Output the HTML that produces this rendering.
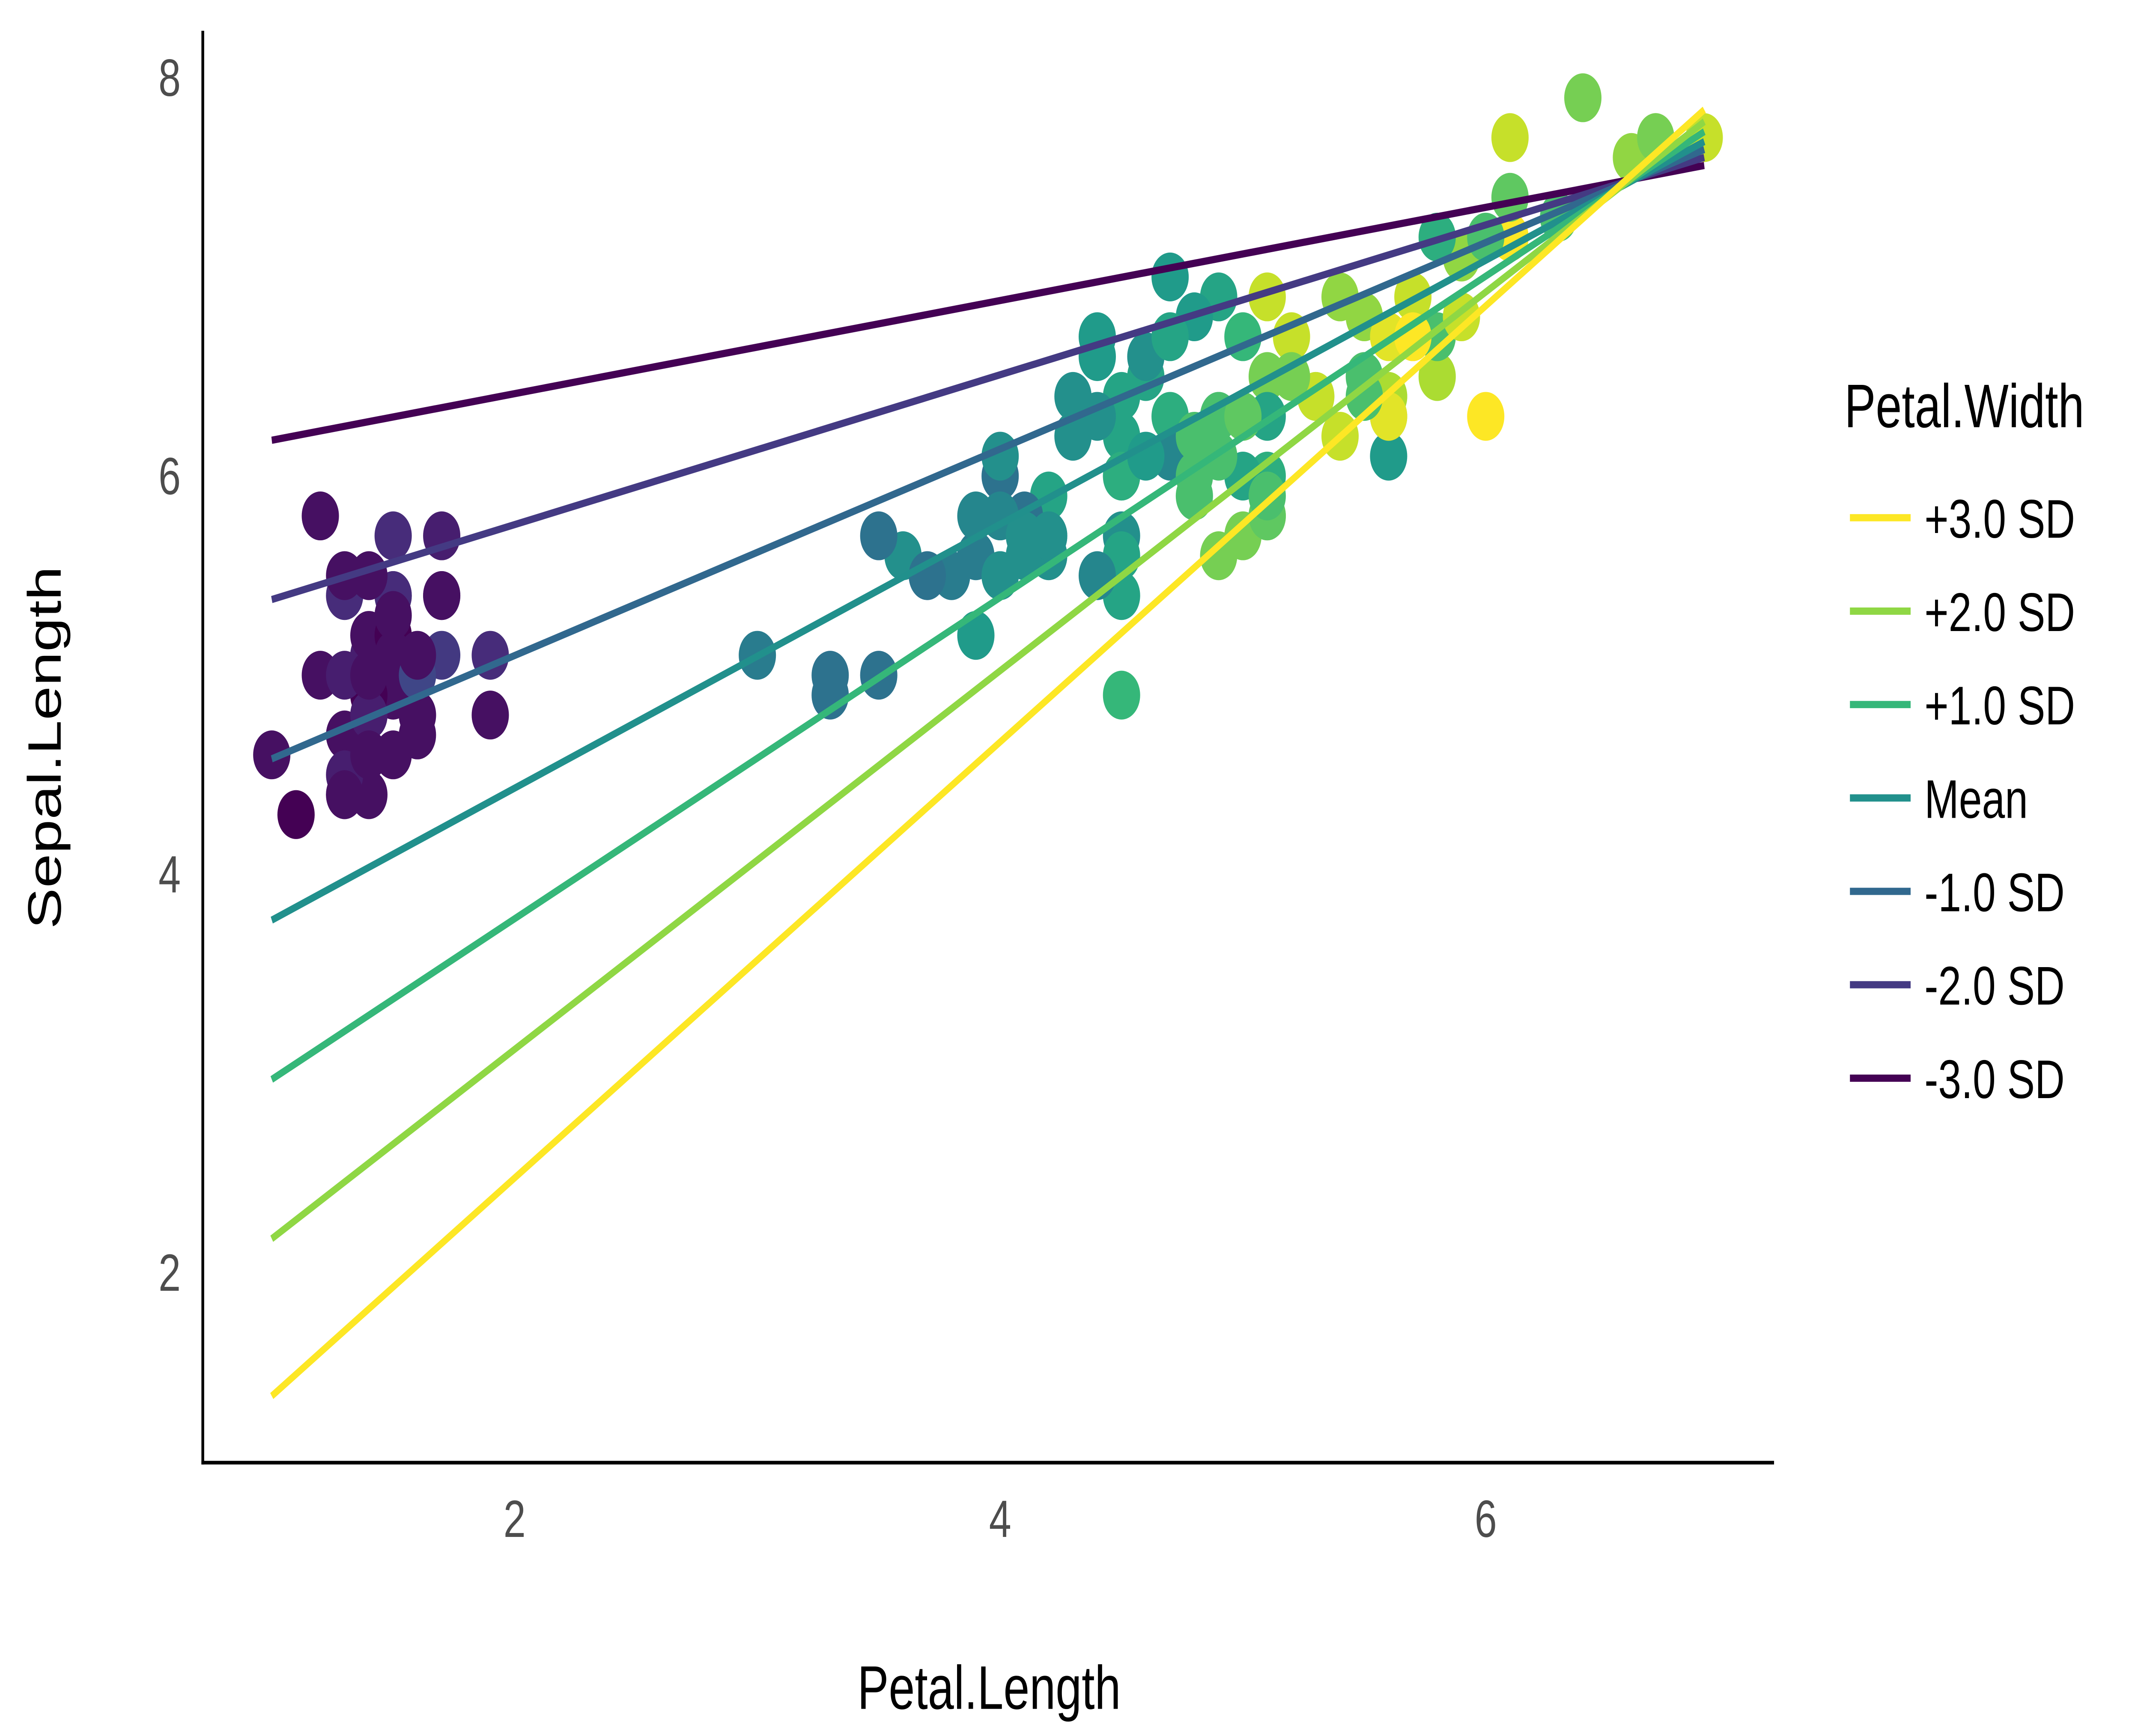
<!DOCTYPE html>
<html><head><meta charset="utf-8">
<style>
html,body{margin:0;padding:0;background:#fff;width:100%;height:100%;overflow:hidden;}
svg{display:block;position:fixed;left:0;top:0;width:100vw;height:100vh;font-family:"Liberation Sans",Arial,sans-serif;}
</style></head>
<body>
<svg id="chart" viewBox="0 0 1552 959" preserveAspectRatio="none" xmlns="http://www.w3.org/2000/svg">
<rect x="0" y="0" width="1552" height="959" fill="#fff"/>
<g id="points"></g>
<g id="lines"></g>
<line x1="147" y1="17" x2="147" y2="809" stroke="#000" stroke-width="2"/>
<line x1="146" y1="808" x2="1286" y2="808" stroke="#000" stroke-width="2"/>
<g id="xticks"></g>
<g id="yticks"></g>
<text x="717" y="944" font-size="34" text-anchor="middle" fill="#000">Petal.Length</text>
<text transform="translate(44,413) rotate(-90)" font-size="34" text-anchor="middle" fill="#000">Sepal.Length</text>
<text x="1337" y="236" font-size="34" fill="#000">Petal.Width</text>
<g id="legend"></g>
</svg>
<script>
const petalLength=[1.4,1.4,1.3,1.5,1.4,1.7,1.4,1.5,1.4,1.5,1.5,1.6,1.4,1.1,1.2,1.5,1.3,1.4,1.7,1.5,1.7,1.5,1.0,1.7,1.9,1.6,1.6,1.5,1.4,1.6,1.6,1.5,1.5,1.4,1.5,1.2,1.3,1.4,1.3,1.5,1.3,1.3,1.3,1.6,1.9,1.4,1.6,1.4,1.5,1.4,
4.7,4.5,4.9,4.0,4.6,4.5,4.7,3.3,4.6,3.9,3.5,4.2,4.0,4.7,3.6,4.4,4.5,4.1,4.5,3.9,4.8,4.0,4.9,4.7,4.3,4.4,4.8,5.0,4.5,3.5,3.8,3.7,3.9,5.1,4.5,4.5,4.7,4.4,4.1,4.0,4.4,4.6,4.0,3.3,4.2,4.2,4.2,4.3,3.0,4.1,
6.0,5.1,5.9,5.6,5.8,6.6,4.5,6.3,5.8,6.1,5.1,5.3,5.5,5.0,5.1,5.3,5.5,6.7,6.9,5.0,5.7,4.9,6.7,4.9,5.7,6.0,4.8,4.9,5.6,5.8,6.1,6.4,5.6,5.1,5.6,6.1,5.6,5.5,4.8,5.4,5.6,5.1,5.1,5.9,5.7,5.2,5.0,5.2,5.4,5.1];
const sepalLength=[5.1,4.9,4.7,4.6,5.0,5.4,4.6,5.0,4.4,4.9,5.4,4.8,4.8,4.3,5.8,5.7,5.4,5.1,5.7,5.1,5.4,5.1,4.6,5.1,4.8,5.0,5.0,5.2,5.2,4.7,4.8,5.4,5.2,5.5,4.9,5.0,5.5,4.9,4.4,5.1,5.0,4.5,4.4,5.0,5.1,4.8,5.1,4.6,5.3,5.0,
7.0,6.4,6.9,5.5,6.5,5.7,6.3,4.9,6.6,5.2,5.0,5.9,6.0,6.1,5.6,6.7,5.6,5.8,6.2,5.6,5.9,6.1,6.3,6.1,6.4,6.6,6.8,6.7,6.0,5.7,5.5,5.5,5.8,6.0,5.4,6.0,6.7,6.3,5.6,5.5,5.5,6.1,5.8,5.0,5.6,5.7,5.7,6.2,5.1,5.7,
6.3,5.8,7.1,6.3,6.5,7.6,4.9,7.3,6.7,7.2,6.5,6.4,6.8,5.7,5.8,6.4,6.5,7.7,7.7,6.0,6.9,5.6,7.7,6.3,6.7,7.2,6.2,6.1,6.4,7.2,7.4,7.9,6.4,6.3,6.1,7.7,6.3,6.4,6.0,6.9,6.7,6.9,5.8,6.8,6.7,6.7,6.3,6.5,6.2,5.9];
const petalWidth=[0.2,0.2,0.2,0.2,0.2,0.4,0.3,0.2,0.2,0.1,0.2,0.2,0.1,0.1,0.2,0.4,0.4,0.3,0.3,0.3,0.2,0.4,0.2,0.5,0.2,0.2,0.4,0.2,0.2,0.2,0.2,0.4,0.1,0.2,0.2,0.2,0.2,0.1,0.2,0.2,0.3,0.3,0.2,0.6,0.4,0.3,0.2,0.2,0.2,0.2,
1.4,1.5,1.5,1.3,1.5,1.3,1.6,1.0,1.3,1.4,1.0,1.5,1.0,1.4,1.3,1.4,1.5,1.0,1.5,1.1,1.8,1.3,1.5,1.2,1.3,1.4,1.4,1.7,1.5,1.0,1.1,1.0,1.2,1.6,1.5,1.6,1.5,1.3,1.3,1.3,1.2,1.4,1.2,1.0,1.3,1.2,1.3,1.3,1.1,1.3,
2.5,1.9,2.1,1.8,2.2,2.1,1.7,1.8,1.8,2.5,2.0,1.9,2.1,2.0,2.4,2.3,1.8,2.2,2.3,1.5,2.3,2.0,2.0,1.8,2.1,1.8,1.8,1.8,2.1,1.6,1.9,2.0,2.2,1.5,1.4,2.3,2.4,1.8,1.8,2.1,2.4,2.3,1.9,2.3,2.5,2.3,1.9,2.0,2.3,1.8];
const lineLabels=["+3.0 SD","+2.0 SD","+1.0 SD","Mean","-1.0 SD","-2.0 SD","-3.0 SD"];
const lineColors=["#FDE725","#8FD744","#35B779","#21908C","#31688E","#443A83","#440154"];
const lineStartX=[1.0,1.0,1.0,1.0,1.0,1.0,1.0];
const lineEndX=[6.9,6.9,6.9,6.9,6.9,6.9,6.9];
const lineStartY=[1.38,2.17,2.97,3.77,4.58,5.38,6.18];
const lineEndY=[7.84,7.78,7.73,7.68,7.64,7.60,7.56];
const xTicks=[2,4,6];
const yTicks=[2,4,6,8];

const NS="http://www.w3.org/2000/svg";
function sx(v){return 197+(v-1)*176;}
function sy(v){return 263-(v-6)*110;}
const vir=[[68,1,84],[72,40,120],[62,74,137],[49,104,142],[38,130,142],[31,158,137],[53,183,121],[109,205,89],[180,222,44],[253,231,37]];
function viridis(t){t=Math.max(0,Math.min(1,t));const p=t*(vir.length-1);const i=Math.min(vir.length-2,Math.floor(p));const f=p-i;
const c=vir[i].map((a,k)=>Math.round(a+(vir[i+1][k]-a)*f));return "rgb("+c.join(",")+")";}
const wMin=Math.min(...petalWidth),wMax=Math.max(...petalWidth);
const pg=document.getElementById("points");
for(let i=0;i<petalLength.length;i++){
 const c=document.createElementNS(NS,"circle");
 c.setAttribute("cx",sx(petalLength[i]));c.setAttribute("cy",sy(sepalLength[i]));c.setAttribute("r",13.5);
 c.setAttribute("fill",viridis((petalWidth[i]-wMin)/(wMax-wMin)));
 
 
 pg.appendChild(c);
}
const lg=document.getElementById("lines");
for(let i=lineLabels.length-1;i>=0;i--){
 const l=document.createElementNS(NS,"line");
 l.setAttribute("x1",sx(lineStartX[i]));l.setAttribute("y1",sy(lineStartY[i]));
 l.setAttribute("x2",sx(lineEndX[i]));l.setAttribute("y2",sy(lineEndY[i]));
 l.setAttribute("stroke",lineColors[i]);l.setAttribute("stroke-width",4);
 
 
 lg.appendChild(l);
}
const xt=document.getElementById("xticks");
xTicks.forEach(v=>{
 const t=document.createElementNS(NS,"text");
 t.setAttribute("x",sx(v));t.setAttribute("y",849);t.setAttribute("font-size",29);t.setAttribute("fill","#4d4d4d");t.setAttribute("text-anchor","middle");
 t.textContent=v;
 
 
 xt.appendChild(t);
});
const yt=document.getElementById("yticks");
yTicks.forEach(v=>{
 const t=document.createElementNS(NS,"text");
 t.setAttribute("x",131);t.setAttribute("y",sy(v)+10);t.setAttribute("font-size",29);t.setAttribute("fill","#4d4d4d");t.setAttribute("text-anchor","end");
 t.textContent=v;
 
 
 yt.appendChild(t);
});
const leg=document.getElementById("legend");
lineLabels.forEach((lab,i)=>{
 const y=286+i*51.6;
 const k=document.createElementNS(NS,"line");
 k.setAttribute("x1",1341);k.setAttribute("x2",1385);k.setAttribute("y1",y);k.setAttribute("y2",y);
 k.setAttribute("stroke",lineColors[i]);k.setAttribute("stroke-width",4);
 
 
 leg.appendChild(k);
 const t=document.createElementNS(NS,"text");
 t.setAttribute("x",1395);t.setAttribute("y",y+11);t.setAttribute("font-size",30);t.setAttribute("fill","#000");
 t.textContent=lab;
 
 
 leg.appendChild(t);
});
</script>
</body></html>
